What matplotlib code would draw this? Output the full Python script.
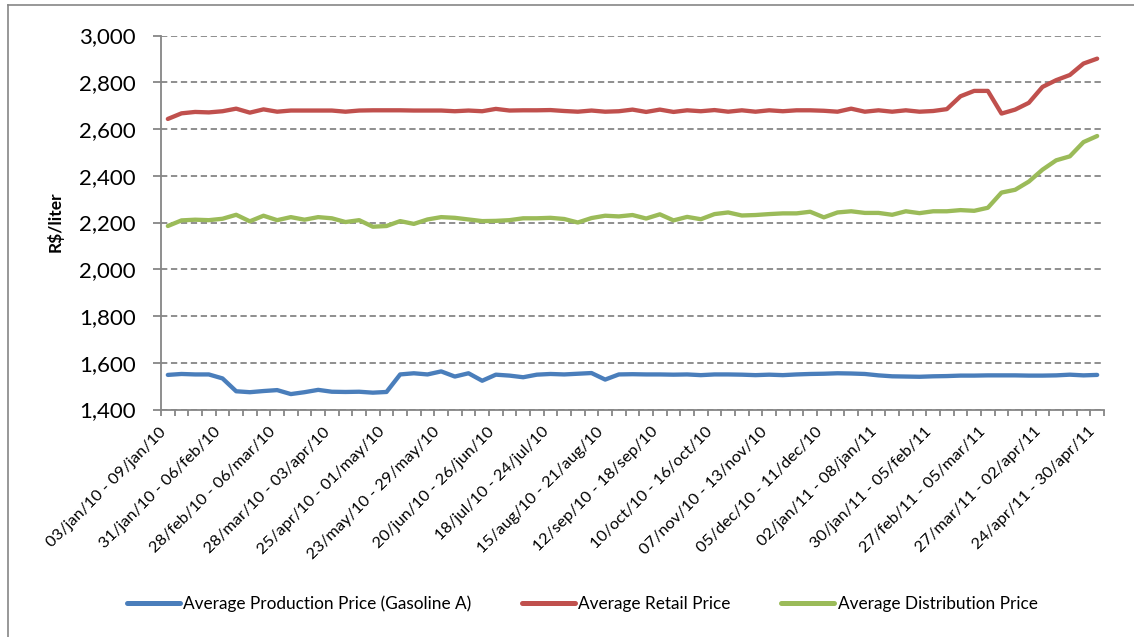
import numpy as np
import matplotlib.pyplot as plt
import matplotlib.transforms as mtransforms
from matplotlib.lines import Line2D

plt.rcParams['font.family'] = ['Lato', 'DejaVu Sans']

# weekly averages, R$/liter (x1000), 03/jan/10 .. 30/apr/11
production = [1548, 1552, 1550, 1550, 1533, 1478, 1474, 1479, 1483, 1466,
              1474, 1484, 1476, 1475, 1476, 1472, 1475, 1550, 1555, 1550,
              1563, 1541, 1555, 1523, 1549, 1545, 1538, 1549, 1552, 1550,
              1553, 1556, 1528, 1550, 1551, 1550, 1550, 1549, 1550, 1547,
              1550, 1550, 1549, 1547, 1549, 1547, 1550, 1552, 1553, 1555,
              1554, 1552, 1546, 1542, 1541, 1540, 1542, 1543, 1545, 1545,
              1546, 1546, 1546, 1545, 1545, 1546, 1549, 1546, 1548]

retail = [2643, 2667, 2673, 2671, 2676, 2687, 2670, 2684, 2674, 2679,
          2679, 2679, 2679, 2674, 2679, 2680, 2680, 2680, 2679, 2679,
          2679, 2676, 2679, 2676, 2686, 2679, 2680, 2680, 2681, 2677,
          2674, 2679, 2674, 2676, 2683, 2673, 2683, 2673, 2680, 2676,
          2681, 2674, 2680, 2674, 2680, 2676, 2680, 2680, 2678, 2674,
          2687, 2674, 2680, 2674, 2680, 2674, 2677, 2685, 2740, 2763,
          2763, 2666, 2683, 2712, 2780, 2809, 2831, 2880, 2901]

distribution = [2185, 2209, 2212, 2210, 2216, 2233, 2205, 2229, 2210, 2223,
                2212, 2223, 2218, 2202, 2210, 2182, 2185, 2206, 2194, 2213,
                2223, 2220, 2213, 2206, 2207, 2210, 2218, 2218, 2220, 2215,
                2200, 2219, 2229, 2226, 2232, 2217, 2235, 2209, 2224, 2214,
                2236, 2243, 2230, 2232, 2236, 2239, 2239, 2246, 2222, 2243,
                2248, 2241, 2241, 2233, 2248, 2240, 2248, 2248, 2253, 2250,
                2263, 2328, 2340, 2375, 2426, 2466, 2483, 2544, 2570]

# every fourth week gets a label
week_labels = ['03/jan/10 - 09/jan/10', '31/jan/10 - 06/feb/10',
               '28/feb/10 - 06/mar/10', '28/mar/10 - 03/apr/10',
               '25/apr/10 - 01/may/10', '23/may/10 - 29/may/10',
               '20/jun/10 - 26/jun/10', '18/jul/10 - 24/jul/10',
               '15/aug/10 - 21/aug/10', '12/sep/10 - 18/sep/10',
               '10/oct/10 - 16/oct/10', '07/nov/10 - 13/nov/10',
               '05/dec/10 - 11/dec/10', '02/jan/11 - 08/jan/11',
               '30/jan/11 - 05/feb/11', '27/feb/11 - 05/mar/11',
               '27/mar/11 - 02/apr/11', '24/apr/11 - 30/apr/11']

series = [('Average Production Price (Gasoline A)', production, '#4A7EBB'),
          ('Average Retail Price', retail, '#C0504D'),
          ('Average Distribution Price', distribution, '#9BBB59')]

W, H = 1134, 637
fig = plt.figure(figsize=(W / 100, H / 100), dpi=100)
ax = fig.add_axes([161 / W, 1 - 409.5 / H, (1104 - 161) / W, (409.5 - 35.5) / H])

n = len(production)
x = np.arange(n)
for name, vals, col in series:
    ax.plot(x, vals, color=col, lw=3.1, label=name, solid_capstyle='round',
            solid_joinstyle='round')

grey = '#868686'
ax.set_xlim(-0.5, n - 0.5)
ax.set_ylim(1400, 3000)
ax.set_yticks(np.arange(1400, 3001, 200))
ax.set_yticklabels([f'{v:,}' for v in range(1400, 3001, 200)], fontsize=16)
ax.yaxis.grid(True, color=grey, lw=1.3, linestyle=(0, (3.5, 2)))
ax.set_axisbelow(True)

ax.set_xticks(x[::4])
ax.set_xticklabels(week_labels, rotation=45, ha='right', rotation_mode='anchor',
                   fontsize=11.8)
ax.set_xticks(np.arange(n + 1) - 0.5, minor=True)
ax.tick_params(axis='x', which='major', length=0, pad=11)
ax.tick_params(axis='x', which='minor', length=4, width=1.3, color=grey)
ax.tick_params(axis='y', length=6, width=1.3, color=grey, pad=12)

# nudge the slanted week labels left so they end under their week
shift = mtransforms.ScaledTranslation(-9 / 100, 0, fig.dpi_scale_trans)
for lab in ax.get_xticklabels():
    lab.set_transform(lab.get_transform() + shift)

for side in ('top', 'right'):
    ax.spines[side].set_visible(False)
for side in ('left', 'bottom'):
    ax.spines[side].set_color(grey)
    ax.spines[side].set_linewidth(1.3)

fig.text(55 / W, 1 - 222 / H, 'R$/liter', rotation=90, fontsize=12.5,
         fontweight='bold', ha='center', va='center')

leg = fig.legend(loc='center', bbox_to_anchor=(582 / W, 1 - 604 / H), ncol=3,
                 frameon=False, fontsize=12.4, handlelength=3.1,
                 handletextpad=0.2, columnspacing=2.9)
for h in leg.get_lines():
    h.set_linewidth(3.6)

# chart area frame
fig.add_artist(Line2D([8 / W, 8 / W], [0, 1 - 5 / H], color=grey, lw=1.2))
fig.add_artist(Line2D([8 / W, 1], [1 - 5 / H, 1 - 5 / H], color=grey, lw=1.2))

fig.savefig('out.png', dpi=100)
